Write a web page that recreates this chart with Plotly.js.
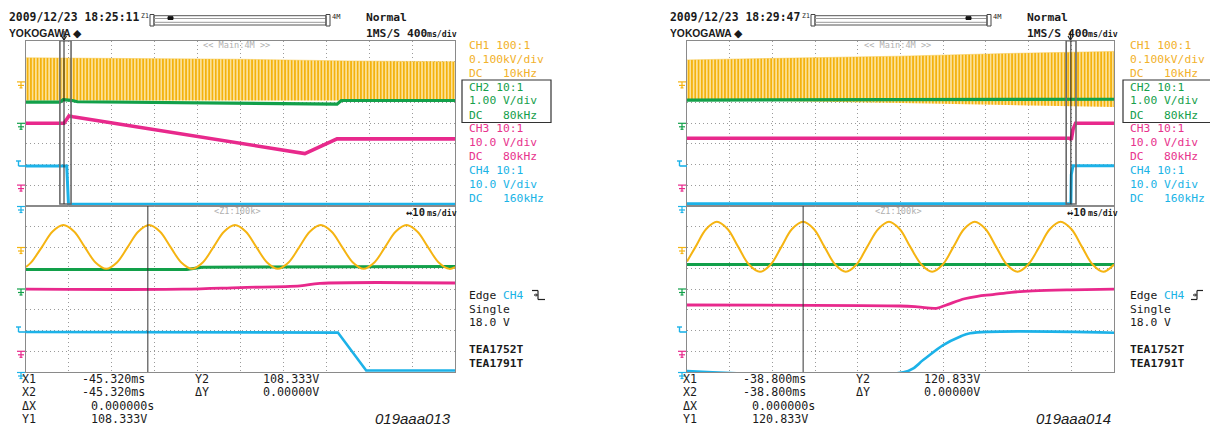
<!DOCTYPE html>
<html><head><meta charset="utf-8">
<script src="https://cdn.plot.ly/plotly-3.0.1.min.js"></script>
<style>html,body{margin:0;padding:0;background:#fff;overflow:hidden}#chart{width:1210px;height:428px}</style>
</head><body><div id="chart"></div>
<script>
// ---------------- DATA (screen divisions: x 0..10, y 0..8) ----------------
// Panel A (left, 019aaa013) main window
const A_up_env_x   = [0, 2.5, 5, 7.5, 10];
const A_up_ch1_top = [7.17, 7.15, 7.10, 7.02, 6.98];
const A_up_ch1_bot = [5.10, 5.10, 5.10, 5.10, 5.10];
const A_up_ch2_x = [0, 0.79, 0.87, 1.05, 1.2, 4, 7.25, 7.35, 10];
const A_up_ch2_y = [5.02, 5.02, 5.14, 5.11, 5.04, 4.97, 4.92, 5.10, 5.10];
const A_up_ch3_x = [0, 0.886, 1.0, 1.096, 6.5, 7.25, 10];
const A_up_ch3_y = [4.0, 4.0, 4.35, 4.31, 2.53, 3.24, 3.24];
const A_up_ch4_x = [0, 0.95, 0.99, 10];
const A_up_ch4_y = [1.93, 1.93, 0.07, 0.07];
// Panel A zoom window
const A_lo_ch1_x = [0, 0.12, 0.37, 0.62, 0.87, 1.12, 1.37, 1.62, 1.87, 2.12, 2.37, 2.62, 2.87, 3.12, 3.37, 3.62, 3.87,
                    4.12, 4.37, 4.62, 4.87, 5.12, 5.37, 5.62, 5.87, 6.12, 6.37, 6.62, 6.87, 7.12, 7.37, 7.62, 7.87,
                    8.12, 8.37, 8.62, 8.87, 9.12, 9.37, 9.62, 9.87, 10];
const A_lo_ch1_y = [5.06, 5.28, 6.02, 6.77, 7.08, 6.77, 6.02, 5.28, 4.97, 5.28, 6.02, 6.77, 7.08, 6.77, 6.02, 5.28, 4.97,
                    5.28, 6.02, 6.77, 7.08, 6.77, 6.02, 5.28, 4.97, 5.28, 6.02, 6.77, 7.08, 6.77, 6.02, 5.28, 4.97,
                    5.28, 6.02, 6.77, 7.08, 6.77, 6.02, 5.28, 4.97, 5.06];
const A_lo_ch2_x = [0, 3.75, 4.1, 10];
const A_lo_ch2_y = [4.94, 4.94, 5.05, 5.08];
const A_lo_ch3_x = [0, 3.66, 4.99, 6.39, 6.85, 10];
const A_lo_ch3_y = [3.99, 3.99, 4.07, 4.15, 4.27, 4.29];
const A_lo_ch4_x = [0, 7.27, 7.93, 10];
const A_lo_ch4_y = [1.93, 1.90, 0.07, 0.07];

// Panel B (right, 019aaa014) main window
const B_up_env_x   = [0, 2.5, 5, 7.5, 10];
const B_up_ch1_top = [7.07, 7.15, 7.25, 7.38, 7.48];
const B_up_ch1_bot = [5.15, 5.08, 4.98, 4.88, 4.78];
const B_up_ch2_x = [0, 5, 10];
const B_up_ch2_y = [5.12, 5.14, 5.16];
const B_up_ch3_x = [0, 8.97, 9.0, 9.04, 9.1, 10];
const B_up_ch3_y = [3.27, 3.27, 3.2, 3.7, 4.0, 4.0];
const B_up_ch4_x = [0, 8.99, 9.0, 9.04, 10];
const B_up_ch4_y = [0.1, 0.1, 1.5, 1.94, 1.94];
// Panel B zoom window
const B_lo_ch1_x = [0, 0.2, 0.45, 0.70, 0.95, 1.2, 1.45, 1.71, 1.96, 2.21, 2.46, 2.72, 2.97, 3.22, 3.47, 3.72, 3.97,
                    4.22, 4.48, 4.73, 4.98, 5.23, 5.49, 5.74, 5.99, 6.24, 6.49, 6.74, 6.99, 7.24, 7.49, 7.74, 7.99,
                    8.25, 8.5, 8.75, 9.0, 9.25, 9.5, 9.75, 10];
const B_lo_ch1_y = [5.33, 6.03, 6.89, 7.24, 6.89, 6.03, 5.18, 4.83, 5.18, 6.03, 6.89, 7.24, 6.89, 6.03, 5.18, 4.83, 5.18,
                    6.03, 6.89, 7.24, 6.89, 6.03, 5.18, 4.83, 5.18, 6.03, 6.89, 7.24, 6.89, 6.03, 5.18, 4.83, 5.18,
                    6.03, 6.89, 7.24, 6.89, 6.03, 5.18, 4.83, 5.18];
const B_lo_ch2_x = [0, 10];
const B_lo_ch2_y = [5.18, 5.18];
const B_lo_ch3_x = [0, 4.99, 5.4, 5.84, 6.1, 6.5, 6.8, 7.16, 7.6, 8.1, 9, 10];
const B_lo_ch3_y = [3.23, 3.18, 3.14, 3.07, 3.25, 3.53, 3.65, 3.73, 3.84, 3.91, 3.96, 3.99];
const B_lo_ch4_x = [0, 5.18, 5.53, 6.0, 6.39, 6.63, 10];
const B_lo_ch4_y = [0.05, 0.05, 0.58, 1.30, 1.70, 1.87, 1.89];

// cursors / zoom boxes (divisions)
const zoomBox   = [[0.79, 1.05, 0.886], [8.88, 9.11, 8.99]];
const cursorX   = [2.84, 2.72];
const sliderPos = [168, 966];

// texts
const stamps   = ['2009/12/23 18:25:11', '2009/12/23 18:29:47'];
const chLabels = [['CH1 100:1', '0.100kV/div', 'DC   10kHz'],
                  ['CH2 10:1', '1.00 V/div', 'DC   80kHz'],
                  ['CH3 10:1', '10.0 V/div', 'DC   80kHz'],
                  ['CH4 10:1', '10.0 V/div', 'DC   160kHz']];
const xCursor  = ['-45.320ms', '-38.800ms'];
const yCursor  = ['108.333V', '120.833V'];
const figIds   = ['019aaa013', '019aaa014'];
const devices  = ['TEA1752T', 'TEA1791T'];

// ---------------- STYLE ----------------
const W = 1210, H = 428;
const PX = x => x / W, PY = y => 1 - y / H;
const C = {y: '#f5b412', g: '#12a04a', p: '#e8298c', c: '#1cb2e8'};
const CT = {y: '#f2b22c', g: '#16a04c', p: '#e8338d', c: '#1ab4e6'};
const MONO = 'DejaVu Sans Mono, monospace';
const panelDx = [0, 661];

function ax(domain, range, anchor) {
  return {domain, range, anchor, dtick: 1, tick0: 0, showgrid: true, gridcolor: '#9a9a9a',
    griddash: '1px,3px', gridwidth: 1, zeroline: false, showticklabels: false, ticks: '',
    showline: true, mirror: true, linecolor: '#8a8a8a', linewidth: 1, fixedrange: true};
}
function ln(x, y, color, width, xa, ya, shape) {
  return {x, y, xaxis: xa, yaxis: ya, mode: 'lines', hoverinfo: 'skip',
    line: {color, width, shape: shape || 'linear'}};
}
function band(x, bot, top, xa, ya) {
  return [
    {x, y: bot, xaxis: xa, yaxis: ya, mode: 'lines', line: {width: 0, color: C.y}, hoverinfo: 'skip'},
    {x, y: top, xaxis: xa, yaxis: ya, mode: 'lines', line: {width: 0.5, color: '#f7c440'}, hoverinfo: 'skip',
     fill: 'tonexty', fillcolor: C.y,
     fillpattern: {shape: '|', fgcolor: '#f4b20c', bgcolor: '#fde6a6', size: 3.3, solidity: 0.55}}
  ];
}

const data = [
  ...band(A_up_env_x, A_up_ch1_bot, A_up_ch1_top, 'x', 'y'),
  ln(A_up_ch2_x, A_up_ch2_y, C.g, 3.2, 'x', 'y'),
  ln(A_up_ch3_x, A_up_ch3_y, C.p, 3.6, 'x', 'y'),
  ln(A_up_ch4_x, A_up_ch4_y, C.c, 3, 'x', 'y'),
  ln(A_lo_ch2_x, A_lo_ch2_y, C.g, 3, 'x2', 'y2'),
  ln(A_lo_ch1_x, A_lo_ch1_y, C.y, 2, 'x2', 'y2', 'spline'),
  ln(A_lo_ch3_x, A_lo_ch3_y, C.p, 2.8, 'x2', 'y2', 'spline'),
  ln(A_lo_ch4_x, A_lo_ch4_y, C.c, 2.6, 'x2', 'y2'),
  ...band(B_up_env_x, B_up_ch1_bot, B_up_ch1_top, 'x3', 'y3'),
  ln(B_up_ch2_x, B_up_ch2_y, C.g, 3.2, 'x3', 'y3'),
  ln(B_up_ch3_x, B_up_ch3_y, C.p, 3.6, 'x3', 'y3'),
  ln(B_up_ch4_x, B_up_ch4_y, C.c, 3, 'x3', 'y3'),
  ln(B_lo_ch2_x, B_lo_ch2_y, C.g, 3, 'x4', 'y4'),
  ln(B_lo_ch1_x, B_lo_ch1_y, C.y, 2, 'x4', 'y4', 'spline'),
  ln(B_lo_ch3_x, B_lo_ch3_y, C.p, 2.8, 'x4', 'y4', 'spline'),
  ln(B_lo_ch4_x, B_lo_ch4_y, C.c, 2.6, 'x4', 'y4', 'spline'),
];

// ---------------- TEXT ----------------
const nb = s => s.replace(/ /g, '\u00a0');
const ann = [];
function T(text, x, y, o) {
  o = o || {};
  ann.push({text: nb(text), x: PX(x), y: PY(y), xref: 'paper', yref: 'paper', xanchor: 'left', yanchor: 'middle',
    showarrow: false, borderpad: 0,
    font: {family: o.f || MONO, size: o.s || 11.3, color: o.c || '#1a1a1a', weight: o.w || 'normal', style: o.st || 'normal'}});
}
const chCol = [CT.y, CT.g, CT.p, CT.c];
const chY = [[45, 59.5, 73.3], [87.3, 100.7, 115], [128.3, 142.5, 156.7], [170.7, 184.3, 198.3]];
for (let p = 0; p < 2; p++) {
  const d = panelDx[p];
  T(stamps[p], 8 + d, 17, {w: 'bold', s: 11.4});
  T('Z1', 140 + d, 15.5, {s: 6.5});
  T('4M', 331 + d, 17, {s: 7});
  T('YOKOGAWA', 8 + d, 33, {f: 'Liberation Sans, Arial, sans-serif', w: 'bold', s: 10.3});
  T('\u25c6', 72 + d, 33, {f: 'DejaVu Sans, sans-serif', s: 11});
  T('Normal', 365 + d, 18, {w: 'bold'});
  T('1MS/S', 365 + d, 33, {w: 'bold'});
  T('400', 406 + d, 33, {w: 'bold'});
  T('ms/div', 426 + d, 34, {s: 8.2, w: 'bold'});
  T('<< Main:4M >>', 202 + d, 45, {s: 8.6, c: '#b0b0b0'});
  T('<Z1:100k>', 213 + d, 211, {s: 8.6, c: '#b0b0b0'});
  T('\u219410', 405 + d, 212, {w: 'bold', s: 10.5});
  T('ms/div', 426 + d, 213, {s: 8.2, w: 'bold'});
  for (let i = 0; i < 4; i++) for (let j = 0; j < 3; j++) T(chLabels[i][j], 468 + d, chY[i][j], {c: chCol[i]});
  T('Edge', 468 + d, 295);
  T('CH4', 502 + d, 295, {c: CT.c});
  T('Single', 468 + d, 309);
  T('18.0 V', 468 + d, 322.3);
  T(devices[0], 468 + d, 349, {w: 'bold'});
  T(devices[1], 468 + d, 363.5, {w: 'bold'});
  T('X1', 21 + d, 379.3, {s: 11.7});
  T(xCursor[p], 81 + d, 379.3, {s: 11.7});
  T('Y2', 194 + d, 379.3, {s: 11.7});
  T(yCursor[p], 262 + d, 379.3, {s: 11.7});
  T('X2', 21 + d, 392, {s: 11.7});
  T(xCursor[p], 81 + d, 392, {s: 11.7});
  T('\u0394Y', 194 + d, 392, {s: 11.7});
  T('0.00000V', 262 + d, 392, {s: 11.7});
  T('\u0394X', 21 + d, 405.8, {s: 11.7});
  T('0.000000s', 90 + d, 405.8, {s: 11.7});
  T('Y1', 21 + d, 419.3, {s: 11.7});
  T(yCursor[p], 90 + d, 419.3, {s: 11.7});
  T(figIds[p], 374 + d, 418.5, {f: 'Liberation Sans, Arial, sans-serif', s: 15, st: 'italic'});
}

// ---------------- SHAPES ----------------
const shapes = [];
function L(x0, y0, x1, y1, color, width, dash) {
  shapes.push({type: 'line', xref: 'paper', yref: 'paper', x0: PX(x0), y0: PY(y0), x1: PX(x1), y1: PY(y1),
    line: {color, width: width || 1, dash: dash || 'solid'}});
}
function R(x0, y0, x1, y1, color, width, fill) {
  shapes.push({type: 'rect', xref: 'paper', yref: 'paper', x0: PX(x0), y0: PY(y0), x1: PX(x1), y1: PY(y1),
    line: {color, width: width || 1}, fillcolor: fill || 'rgba(0,0,0,0)'});
}
function gmark(x, y, col) {
  L(x, y, x + 8, y, col, 1.2); L(x + 4, y, x + 4, y + 6, col, 1.2);
  L(x + 1, y + 3.5, x + 7, y + 3.5, col, 1.2); L(x + 2.5, y + 6, x + 5.5, y + 6, col, 1.2);
}
function tmark(x, y, col) {
  L(x - 1, y - 5, x + 4, y - 5, col, 1.4); L(x + 1.5, y - 5, x + 1.5, y, col, 1.4);
  L(x + 1.5, y, x + 9, y, col, 1.6);
}
for (let p = 0; p < 2; p++) {
  const d = panelDx[p];
  // slider
  R(150 + d, 14.5, 154 + d, 26, '#444', 1);
  R(154 + d, 15.7, 326 + d, 25, '#555', 1);
  L(154 + d, 18.5, 326 + d, 18.5, '#999', 1);
  L(154 + d, 22.3, 326 + d, 22.3, '#999', 1);
  R(sliderPos[p], 16.7, sliderPos[p] + 5, 19.5, '#111', 1, '#111');
  R(326 + d, 14.5, 330 + d, 26, '#444', 1);
  // CH2 box
  R(462 + d, 80, 551 + d, 122.5, '#333', 1.2);
  // ground / trigger markers
  const gx = 17 + d;
  gmark(gx, 81.9, C.y); gmark(gx, 123.3, C.g); tmark(gx, 166, C.c); gmark(gx, 185.1, C.p); gmark(gx, 206.5, C.c);
  gmark(gx, 247.5, C.y); gmark(gx, 289, C.g); tmark(gx, 332, C.c); gmark(gx, 351.3, C.p); gmark(gx, 372.5, C.c);
  // top trigger marker
  const tx = p === 0 ? 64 : 1070.5;
  L(tx, 31, tx, 40, '#222', 1.2);
  L(tx - 2.5, 36, tx, 40, '#222', 1.2); L(tx + 2.5, 36, tx, 40, '#222', 1.2);
}
// edge slope glyphs
L(532, 290.5, 538, 290.5, '#222', 1.2); L(538, 290.5, 538, 299.5, '#222', 1.2); L(538, 299.5, 545, 299.5, '#222', 1.2);
L(534, 295, 537, 295, '#222', 1.2); L(536, 293.5, 537.5, 295, '#222', 1); L(536, 296.5, 537.5, 295, '#222', 1);
L(1191, 299.5, 1197, 299.5, '#222', 1.2); L(1197, 299.5, 1197, 290.5, '#222', 1.2); L(1197, 290.5, 1203, 290.5, '#222', 1.2);
L(1193, 295, 1196, 295, '#222', 1.2); L(1195, 293.5, 1196.5, 295, '#222', 1); L(1195, 296.5, 1196.5, 295, '#222', 1);
// zoom boxes and cursors in data coords
const upAx = [['x', 'y'], ['x3', 'y3']], loAx = [['x2', 'y2'], ['x4', 'y4']];
for (let p = 0; p < 2; p++) {
  const [a, b, c] = zoomBox[p];
  shapes.push({type: 'rect', xref: upAx[p][0], yref: upAx[p][1], x0: a, x1: b, y0: 0.08, y1: 8,
    line: {color: '#6a6a6a', width: 1.6}});
  shapes.push({type: 'line', xref: upAx[p][0], yref: upAx[p][1], x0: c, x1: c, y0: 0.08, y1: 8,
    line: {color: '#222', width: 1}});
  shapes.push({type: 'line', xref: loAx[p][0], yref: loAx[p][1], x0: cursorX[p], x1: cursorX[p], y0: 0, y1: 8,
    line: {color: '#333', width: 1}});
}

const upY = [PY(205.7), PY(40.7)], loY = [PY(372), PY(206)];
const dA = [PX(26), PX(455)], dB = [PX(687), PX(1114)];
const layout = {
  width: W, height: H, margin: {l: 0, r: 0, t: 0, b: 0}, paper_bgcolor: '#fff', plot_bgcolor: '#fff',
  showlegend: false, hovermode: false,
  xaxis: ax(dA, [0, 10], 'y'), yaxis: ax(upY, [0, 8], 'x'),
  xaxis2: ax(dA, [0, 10], 'y2'), yaxis2: ax(loY, [0, 8], 'x2'),
  xaxis3: ax(dB, [0, 10], 'y3'), yaxis3: ax(upY, [0, 8], 'x3'),
  xaxis4: ax(dB, [0, 10], 'y4'), yaxis4: ax(loY, [0, 8], 'x4'),
  annotations: ann, shapes: shapes
};
Plotly.newPlot('chart', data, layout, {staticPlot: true, displayModeBar: false});
</script></body></html>
